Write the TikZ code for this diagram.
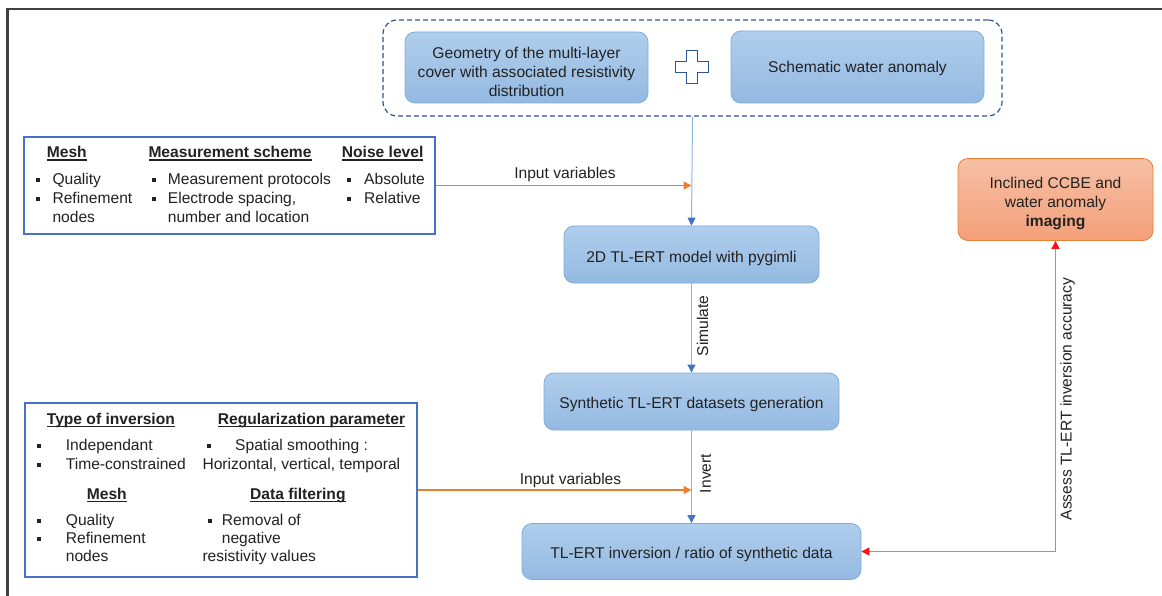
\documentclass[tikz,border=0pt]{standalone}
\usepackage{fontspec}
\setmainfont{Liberation Sans}
\usetikzlibrary{arrows.meta}
\definecolor{txt}{HTML}{222222}
\definecolor{btop}{HTML}{B0CEEC}
\definecolor{bbot}{HTML}{94B9E1}
\definecolor{bdraw}{HTML}{7EADDC}
\definecolor{otop}{HTML}{F6BFA5}
\definecolor{obot}{HTML}{F4A079}
\definecolor{odraw}{HTML}{ED7D31}
\definecolor{dkblue}{HTML}{2F5597}
\definecolor{midblue}{HTML}{4472C4}
\definecolor{lineblue}{HTML}{8DB4E2}
\definecolor{orangeline}{HTML}{ED7D31}
\definecolor{redline}{HTML}{FF6B6B}
\definecolor{redtip}{HTML}{FF1010}
\newcommand{\hdul}[1]{\setbox0\hbox{\textbf{#1}}\rlap{\rule[-2.6pt]{\wd0}{1.3pt}}\box0}
\newcommand{\bstrut}[1]{\rule{0pt}{#1}}
\begin{document}
\begin{tikzpicture}[x=1pt,y=-1pt,
  every node/.style={font=\fontsize{15.6}{19}\selectfont, text=txt},
  bbox/.style={rounded corners=10pt, draw=bdraw, line width=0.8pt, top color=btop, bottom color=bbot, align=center, inner sep=0pt},
  obox/.style={rounded corners=10pt, draw=odraw, line width=0.8pt, top color=otop, bottom color=obot, align=center, inner sep=0pt},
  dashbox/.style={rounded corners=14pt, draw=dkblue, line width=1.2pt, dash pattern=on 5pt off 3pt, inner sep=0pt},
  listbox/.style={draw=midblue, line width=1.1pt, fill=white, inner sep=0pt},
  it/.style={anchor=base west, inner sep=0pt},
  bul/.style={rectangle, fill=txt, minimum size=4pt, inner sep=0pt},
  bluearrow/.style={draw=lineblue, line width=1pt, -{Triangle[length=8pt, width=8pt, color=midblue]}},
  orangearrow/.style={draw=orangeline, line width=1.2pt, -{Triangle[length=8pt, width=8pt, color=orangeline]}},
  redarrow/.style={draw=redline, line width=1pt, {Triangle[length=8pt, width=8pt, color=redtip]}-{Triangle[length=8pt, width=8pt, color=redtip]}},
  lbl/.style={inner sep=0pt}
]
\useasboundingbox (0,0) rectangle (1162,596);
\fill[white] (0,0) rectangle (1162,596);
% outer frame
\draw[black!75, line width=2.6pt] (7.5,597) -- (7.5,9) -- (1163,9);

% top container
\node[dashbox, minimum width=619pt, minimum height=96pt] (cont) at (692.5,68) {};
\node[bbox, minimum width=243pt, minimum height=71pt] (geo) at (526.5,67.5) {\bstrut{19.4pt}Geometry of the multi-layer\\cover with associated resistivity\\distribution};
\node[bbox, minimum width=253pt, minimum height=72pt] (schem) at (857.5,67) {\bstrut{13.4pt}Schematic water anomaly};
\draw[dkblue, line width=1.5pt, fill=white] (692,67) ++(-5.5,-16.5) -- ++(11,0) -- ++(0,11) -- ++(11,0) -- ++(0,11) -- ++(-11,0) -- ++(0,11) -- ++(-11,0) -- ++(0,-11) -- ++(-11,0) -- ++(0,-11) -- ++(11,0) -- cycle;

% main chain
\node[bbox, minimum width=255pt, minimum height=57pt] (model) at (691.5,254.5) {\bstrut{19.4pt}2D TL-ERT model with pygimli};
\node[bbox, minimum width=295pt, minimum height=57pt] (synth) at (691.5,401.5) {\bstrut{16.4pt}Synthetic TL-ERT datasets generation};
\node[bbox, minimum width=339pt, minimum height=56pt] (inv) at (691.5,551.5) {\bstrut{17.8pt}TL-ERT inversion / ratio of synthetic data};
\node[obox, minimum width=195pt, minimum height=82pt] (ccbe) at (1055.5,199.5) {\bstrut{18.8pt}Inclined CCBE and\\water anomaly\\\textbf{imaging}};

% top-left list box
\node[listbox, minimum width=411pt, minimum height=97pt] (lb1) at (229.5,185.5) {};
\node[it] (h11) at (46.7,158) {\hdul{Mesh}};
\node[it] (h12) at (148.3,158) {\hdul{Measurement scheme}};
\node[it] (h13) at (341.7,158) {\hdul{Noise level}};
\node[bul] (b11) at (37.5,180) {};
\node[bul] (b12) at (37.5,199) {};
\node[bul] (b13) at (153.5,180) {};
\node[bul] (b14) at (153.5,199) {};
\node[bul] (b15) at (349,180) {};
\node[bul] (b16) at (349,199) {};
\node[it] (t11) at (52.3,184.5) {Quality};
\node[it] (t12) at (52.3,203.5) {Refinement};
\node[it] (t13) at (52.3,222.5) {nodes};
\node[it] (t14) at (167.7,184.5) {Measurement protocols};
\node[it] (t15) at (167.7,203.5) {Electrode spacing,};
\node[it] (t16) at (167.7,222.5) {number and location};
\node[it] (t17) at (364,184.5) {Absolute};
\node[it] (t18) at (364,203.5) {Relative};

% bottom-left list box
\node[listbox, minimum width=392pt, minimum height=174pt] (lb2) at (221,490) {};
\node[it] (h21) at (46.7,424.3) {\hdul{Type of inversion}};
\node[it] (h22) at (217.7,424.3) {\hdul{Regularization parameter}};
\node[bul] (b21) at (38.5,446) {};
\node[bul] (b22) at (38.5,464.5) {};
\node[bul] (b23) at (208.5,446) {};
\node[it] (t21) at (65.7,450.5) {Independant};
\node[it] (t22) at (65.7,469) {Time-constrained};
\node[it] (t23) at (235,450.5) {Spatial smoothing :};
\node[it] (t24) at (202.3,469) {Horizontal, vertical, temporal};
\node[it] (h23) at (86.7,499.3) {\hdul{Mesh}};
\node[it] (h24) at (250,499.3) {\hdul{Data filtering}};
\node[bul] (b24) at (38.5,520.5) {};
\node[bul] (b25) at (38.5,539) {};
\node[bul] (b26) at (210,520.5) {};
\node[it] (t25) at (65.7,525) {Quality};
\node[it] (t26) at (65.7,543.3) {Refinement};
\node[it] (t27) at (65.7,561.3) {nodes};
\node[it] (t28) at (221.7,525) {Removal of};
\node[it] (t29) at (221.7,543.3) {negative};
\node[it] (t30) at (202.3,561.3) {resistivity values};

% connectors
\draw[bluearrow] (cont.south) -- (model.north);
\draw[orangearrow] (lb1.east) -- (lb1.east -| model.north);
\node[lbl] (iv1) at (565,174.5) {Input variables};
\draw[bluearrow] (model.south) -- (synth.north);
\node[lbl, rotate=90] (sim) at (702.5,326) {Simulate};
\draw[bluearrow] (synth.south) -- (inv.north);
\node[lbl, rotate=90] (invl) at (705.5,473.5) {Invert};
\draw[orangearrow] (lb2.east) -- (lb2.east -| inv.north);
\node[lbl] (iv2) at (570.5,480.5) {Input variables};
\draw[redarrow] (inv.east) -| (ccbe.south);
\node[lbl, rotate=90] (assess) at (1067.5,399) {Assess TL-ERT inversion accuracy};
\end{tikzpicture}
\end{document}
